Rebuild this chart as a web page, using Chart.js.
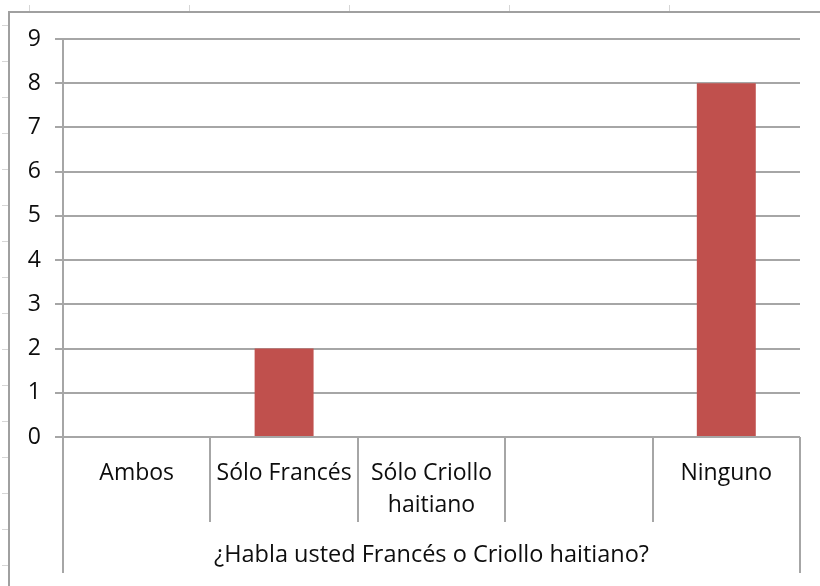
<!DOCTYPE html>
<html>
<head>
<meta charset="utf-8">
<script src="https://cdn.jsdelivr.net/npm/chart.js@4/dist/chart.umd.min.js"></script>
<style>
  html, body { margin: 0; padding: 0; background: #ffffff; }
  #wrap { width: 820px; height: 586px; position: relative; }
</style>
</head>
<body>
<div id="wrap"><canvas id="c" width="820" height="586"></canvas></div>
<script>
const categories = ['Ambos', 'Sólo Francés', ['Sólo Criollo', 'haitiano'], '', 'Ninguno'];
const values = [0, 2, 0, 0, 8];
const groupLabel = '¿Habla usted Francés o Criollo haitiano?';
const yTicks = [0, 1, 2, 3, 4, 5, 6, 7, 8, 9];

const FONT = "'Open Sans', 'DejaVu Sans', sans-serif";
const TEXT = '#0d0d0d';
const GRID = '#a6a6a6';

const decor = {
  id: 'decor',
  beforeDraw(chart) {
    const ctx = chart.ctx;
    ctx.save();
    ctx.strokeStyle = '#a0a0a0';
    ctx.lineWidth = 2;
    ctx.strokeRect(9, 12, 830, 600);
    ctx.strokeStyle = '#d6d6d6';
    ctx.lineWidth = 1;
    [29, 189, 349, 509, 669].forEach(x => {
      ctx.beginPath(); ctx.moveTo(x + 0.5, 5); ctx.lineTo(x + 0.5, 11); ctx.stroke();
    });
    for (let y = 25; y < 586; y += 36) {
      ctx.beginPath(); ctx.moveTo(2, y + 0.5); ctx.lineTo(8, y + 0.5); ctx.stroke();
    }
    ctx.restore();
  },
  afterDraw(chart) {
    const ctx = chart.ctx;
    const xs = chart.scales.x;
    const area = chart.chartArea;
    const n = categories.length;
    const half = (xs.getPixelForValue(1) - xs.getPixelForValue(0)) / 2;
    ctx.save();
    ctx.strokeStyle = GRID;
    ctx.lineWidth = 2;
    for (let i = 0; i <= n; i++) {
      const x = Math.round(i < n ? xs.getPixelForValue(i) - half : xs.getPixelForValue(n - 1) + half);
      const outer = (i === 0 || i === n);
      ctx.beginPath();
      ctx.moveTo(x, area.bottom);
      ctx.lineTo(x, area.bottom + (outer ? 136 : 85));
      ctx.stroke();
    }
    ctx.fillStyle = TEXT;
    ctx.font = '23.5px ' + FONT;
    ctx.textAlign = 'center';
    ctx.textBaseline = 'middle';
    ctx.fillText(groupLabel, (area.left + area.right) / 2, area.bottom + 118);
    ctx.restore();
  }
};

new Chart(document.getElementById('c'), {
  type: 'bar',
  data: {
    labels: categories,
    datasets: [{
      data: values,
      backgroundColor: '#C0504D',
      borderWidth: 0,
      barPercentage: 0.4,
      categoryPercentage: 1.0
    }]
  },
  options: {
    responsive: false,
    animation: false,
    layout: { padding: { left: 0, top: 39, right: 20, bottom: 0 } },
    plugins: { legend: { display: false }, tooltip: { enabled: false } },
    scales: {
      x: {
        offset: true,
        grid: { display: false, drawTicks: false },
        border: { display: false },
        ticks: {
          autoSkip: false, maxRotation: 0, minRotation: 0,
          padding: 20,
          color: TEXT,
          font: { family: FONT, size: 23, lineHeight: 1.4 }
        },
        afterFit(scale) { scale.height = 149; }
      },
      y: {
        min: 0, max: 9,
        afterBuildTicks(scale) { scale.ticks = yTicks.map(v => ({ value: v })); },
        grid: { color: GRID, lineWidth: 2, tickLength: 8 },
        border: { display: true, color: GRID, width: 2 },
        ticks: {
          padding: 14,
          color: TEXT,
          font: { family: FONT, size: 23 }
        },
        afterFit(scale) { scale.width = 63; }
      }
    }
  },
  plugins: [decor]
});
</script>
</body>
</html>
